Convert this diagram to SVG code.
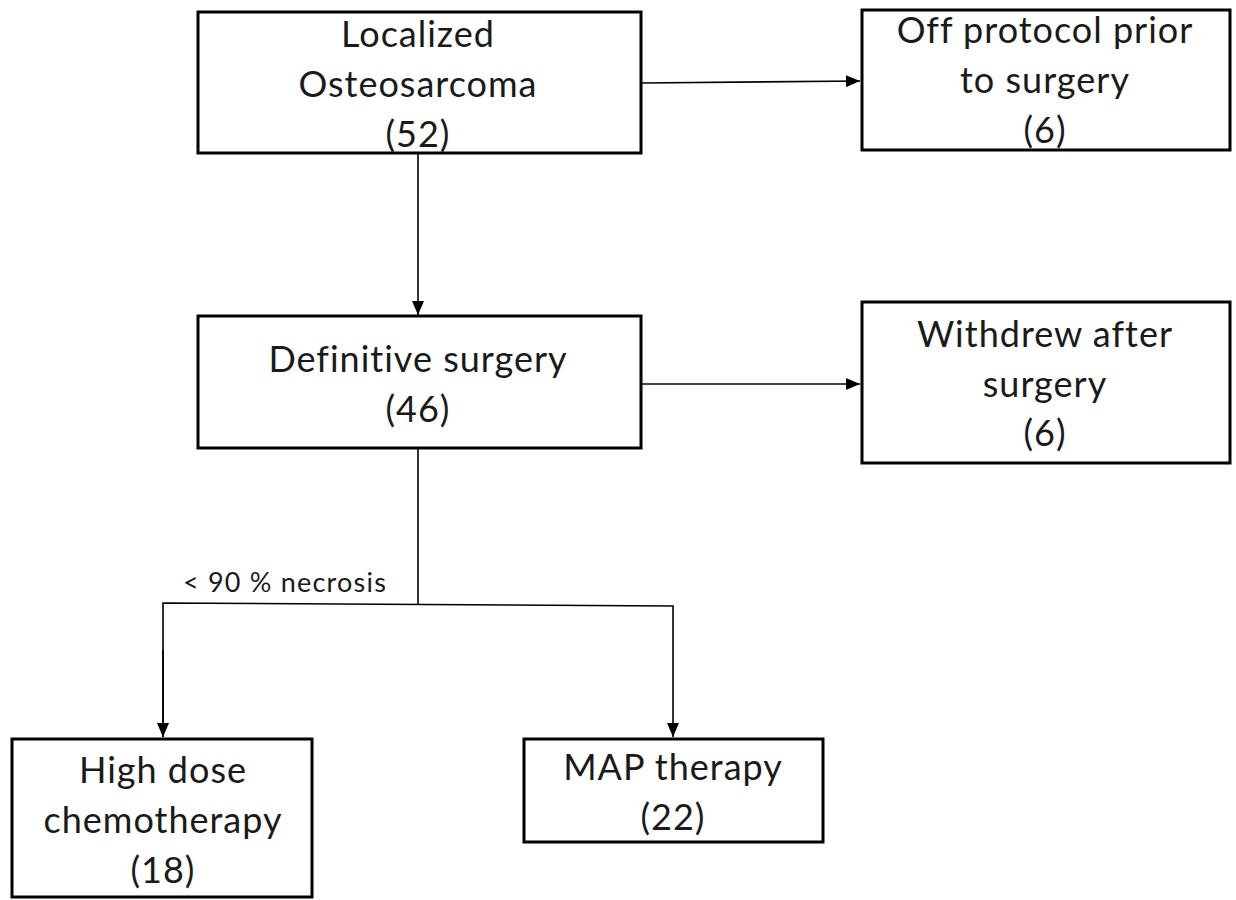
<svg xmlns="http://www.w3.org/2000/svg" width="1236" height="900" viewBox="0 0 1236 900">
<style>
.box{fill:#fff;stroke:#000;stroke-width:3}
.t{font-family:Lato,"Liberation Sans",sans-serif;font-size:36px;letter-spacing:1px;fill:#1a1a1a;text-anchor:middle}
.lbl{font-family:Lato,"Liberation Sans",sans-serif;font-size:27px;letter-spacing:1.2px;fill:#1a1a1a}
.c{fill:none;stroke:#000;stroke-width:1.6}
</style>
<defs>
<marker id="ah" viewBox="0 0 14 12" refX="14" refY="6" markerWidth="14" markerHeight="12" markerUnits="userSpaceOnUse" orient="auto">
<path d="M0,0 L14,6 L0,12 Z" fill="#000"/>
</marker>
</defs>
<rect width="1236" height="900" fill="#fff"/>
<g id="connectors">
<line class="c" x1="642" y1="83" x2="860" y2="81" marker-end="url(#ah)"/>
<line class="c" x1="418" y1="153" x2="418" y2="315" marker-end="url(#ah)"/>
<line class="c" x1="642" y1="384" x2="860" y2="384" marker-end="url(#ah)"/>
<polyline class="c" points="418,448 418,604"/>
<polyline class="c" points="163,737 163,603 673,606 673,737" marker-end="url(#ah)"/>
<line class="c" x1="163" y1="650" x2="163" y2="737" marker-end="url(#ah)"/>
<text class="lbl" x="183" y="592">&lt; 90 % necrosis</text>
</g>
<g id="n1">
<rect class="box" x="198" y="12" width="443" height="141"/>
<text class="t" x="418" y="47">Localized</text>
<text class="t" x="418" y="97">Osteosarcoma</text>
<text class="t" x="418" y="147">(52)</text>
</g>
<g id="n2">
<rect class="box" x="862" y="10" width="368" height="140"/>
<text class="t" x="1045" y="43">Off protocol prior</text>
<text class="t" x="1045" y="93">to surgery</text>
<text class="t" x="1045" y="143">(6)</text>
</g>
<g id="n3">
<rect class="box" x="198" y="316" width="443" height="132"/>
<text class="t" x="418" y="372">Definitive surgery</text>
<text class="t" x="418" y="422">(46)</text>
</g>
<g id="n4">
<rect class="box" x="862" y="302" width="368" height="161"/>
<text class="t" x="1045" y="347">Withdrew after</text>
<text class="t" x="1045" y="397">surgery</text>
<text class="t" x="1045" y="446">(6)</text>
</g>
<g id="n5">
<rect class="box" x="12" y="739" width="300" height="158"/>
<text class="t" x="163" y="783">High dose</text>
<text class="t" x="163" y="833">chemotherapy</text>
<text class="t" x="163" y="883">(18)</text>
</g>
<g id="n6">
<rect class="box" x="524" y="739" width="299" height="103"/>
<text class="t" x="673" y="780">MAP therapy</text>
<text class="t" x="673" y="830">(22)</text>
</g>
</svg>
